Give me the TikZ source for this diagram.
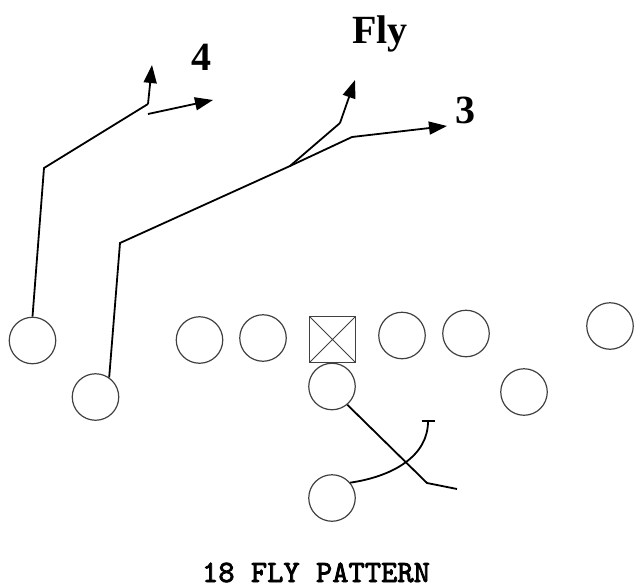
\documentclass[tikz,border=0pt]{standalone}
\usepackage{fontspec}
\setmainfont{Liberation Serif}
\newfontfamily\titlefont{lmmono10-regular.otf}[FakeBold=2.5]
\usetikzlibrary{arrows.meta}

\tikzset{
  player/.style={draw=black!75, line width=1.2pt, circle, inner sep=0pt, minimum size=46.5pt},
  center/.style={draw=black!75, line width=1.2pt, rectangle, inner sep=0pt, minimum size=46.5pt,
    path picture={\draw[black!75, line width=1pt] (path picture bounding box.north west) -- (path picture bounding box.south east)
      (path picture bounding box.south west) -- (path picture bounding box.north east);}},
  route/.style={line width=1.8pt},
  tip/.style={-{Triangle[length=18pt,width=13pt]}},
  lbl/.style={font=\fontsize{40}{40}\selectfont\bfseries, inner sep=0pt}
}

\begin{document}
\begin{tikzpicture}[x=1pt,y=-1pt]
          \useasboundingbox (0,0) rectangle (634,586);

          % line
          \node[player] (se) at (32.5,340.5) {};
          \node[player] (lt) at (199.5,340) {};
          \node[player] (lg) at (263,338) {};
          \node[center] (ctr) at (332.5,339.5) {};
          \node[player] (rg) at (402,335.5) {};
          \node[player] (rt) at (466,333.5) {};
          \node[player] (te) at (610,326) {};

          % backs
          \node[player] (fl) at (95.5,397) {};
          \node[player] (qb) at (332,386.5) {};
          \node[player] (wb) at (524,392) {};
          \node[player] (rb) at (332,498) {};

          % split end
          \coordinate (seA) at (44,168);
          \coordinate (seB) at (148,104);
          \coordinate (seC) at (152,65);
          \draw[route] (se.north) -- (seA) -- (seB);
          \draw[route,tip] (seB) -- (seC);
          \coordinate (seD) at (148,114);
          \coordinate (seE) at (213,100);
          \draw[route,tip] (seD) -- (seE);
          \node[lbl] (four) at (201,57) {4};

          % flanker
          \coordinate (flA) at (120,243);
          \coordinate (flB) at (290,166);
          \coordinate (flC) at (352,137);
          \coordinate (flD) at (447,126);
          \draw[route] (fl.55) -- (flA) -- (flB) -- (flC);
          \draw[route,tip] (flC) -- (flD);
          \node[lbl] (three) at (465,110) {3};

          % fly
          \coordinate (flyA) at (340,123);
          \coordinate (flyB) at (355,80);
          \draw[route] (flB) -- (flyA);
          \draw[route,tip] (flyA) -- (flyB);
          \node[lbl] (fly) at (380,34) {Fly};

          % quarterback
          \coordinate (qbA) at (427,483);
          \coordinate (qbB) at (457,489);
          \draw[route] (qb.-50) -- (qbA) -- (qbB);

          % running back
          \coordinate (rbA) at (428,420);
          \draw[route,-{Bar[width=13pt,line width=1.8pt]}] (rb.40) .. controls (395,476) and (428,455) .. (rbA);

          % title
          \node[anchor=base, inner sep=0pt, font=\fontsize{31}{31}\titlefont] (title) at (316,582) {18 FLY PATTERN};
\end{tikzpicture}
\end{document}
